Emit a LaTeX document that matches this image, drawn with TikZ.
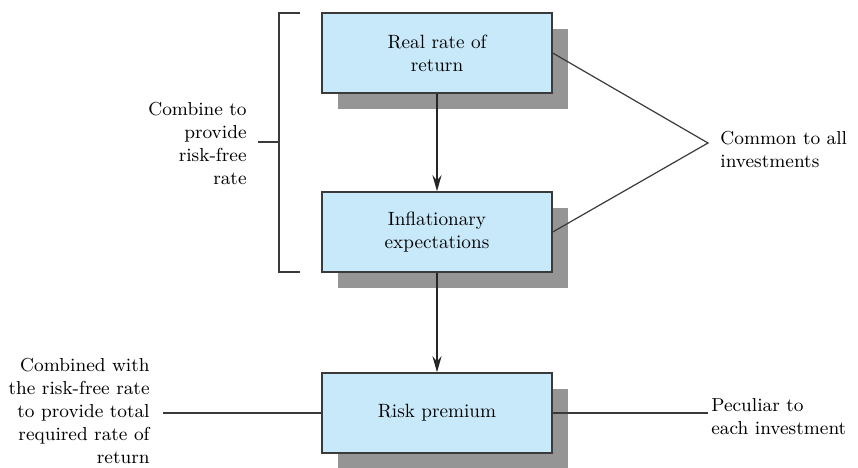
\documentclass[tikz,border=0pt]{standalone}
\usepackage{tikz}
\usetikzlibrary{arrows.meta, shadows, positioning}
\usepackage{xcolor}
\definecolor{boxblue}{HTML}{C8E9F9}
\definecolor{shadowgray}{HTML}{959595}
\definecolor{edgegray}{HTML}{3A3A3A}

\begin{document}
\begin{tikzpicture}[x=0.5pt, y=-0.5pt]
        % Styles
        \tikzset{
          ratebox/.style={
            draw=edgegray, line width=0.7pt,
            fill=boxblue,
            minimum width=115pt, minimum height=40pt,
            align=center, inner sep=2pt,
            font=\fontsize{9.6}{11.5}\selectfont,
            drop shadow={shadow xshift=8pt, shadow yshift=-8pt,
              fill=shadowgray, opacity=1}
          },
          note/.style={
            font=\fontsize{9.4}{11.5}\selectfont,
            inner sep=0pt
          },
          thin line/.style={draw=edgegray, line width=0.6pt},
          flow/.style={
            draw=black!85, line width=1.2pt,
            -{Stealth[length=8pt, width=4.5pt]}
          }
        }
        \useasboundingbox (0,0) rectangle (858,467);

        % the three components
        \node[ratebox] (real) at (437,53)  {Real rate of\\return};
        \node[ratebox] (infl) at (437,232) {Inflationary\\expectations};
        \node[ratebox] (risk) at (437,413) {Risk premium};

        \draw[flow] (real) -- (infl);
        \draw[flow] (infl) -- (risk);

        % bracket on the left
        \coordinate (brtop) at (300,13);
        \coordinate (brbot) at (300,272);
        \coordinate (brmid) at (279,142);
        \draw[thin line] (brtop) -| (brbot -| brmid) -- (brbot);
        \draw[thin line] (brmid) -- ++(-21,0) coordinate (brtick);
        \node[note, anchor=east, align=right] (combine) at (247,143)
          {Combine to\\provide\\risk-free\\rate};

        % common part
        \coordinate (meet) at (708,143);
        \draw[thin line] (real.east) -- (meet) -- (infl.east);
        \node[note, anchor=west, align=left] (common) at (720,149)
          {Common to all\\investments};

        % risk premium notes
        \node[note, anchor=east, align=right] (total) at (150,411)
          {Combined with\\the risk-free rate\\to provide total\\required rate of\\return};
        \coordinate (totalend) at (163,413);
        \draw[thin line] (totalend) -- (risk.west);
        \coordinate (peculend) at (708,413);
        \draw[thin line] (risk.east) -- (peculend);
        \node[note, anchor=west, align=left] (peculiar) at (711,417)
          {Peculiar to\\each investment};
\end{tikzpicture}
\end{document}
